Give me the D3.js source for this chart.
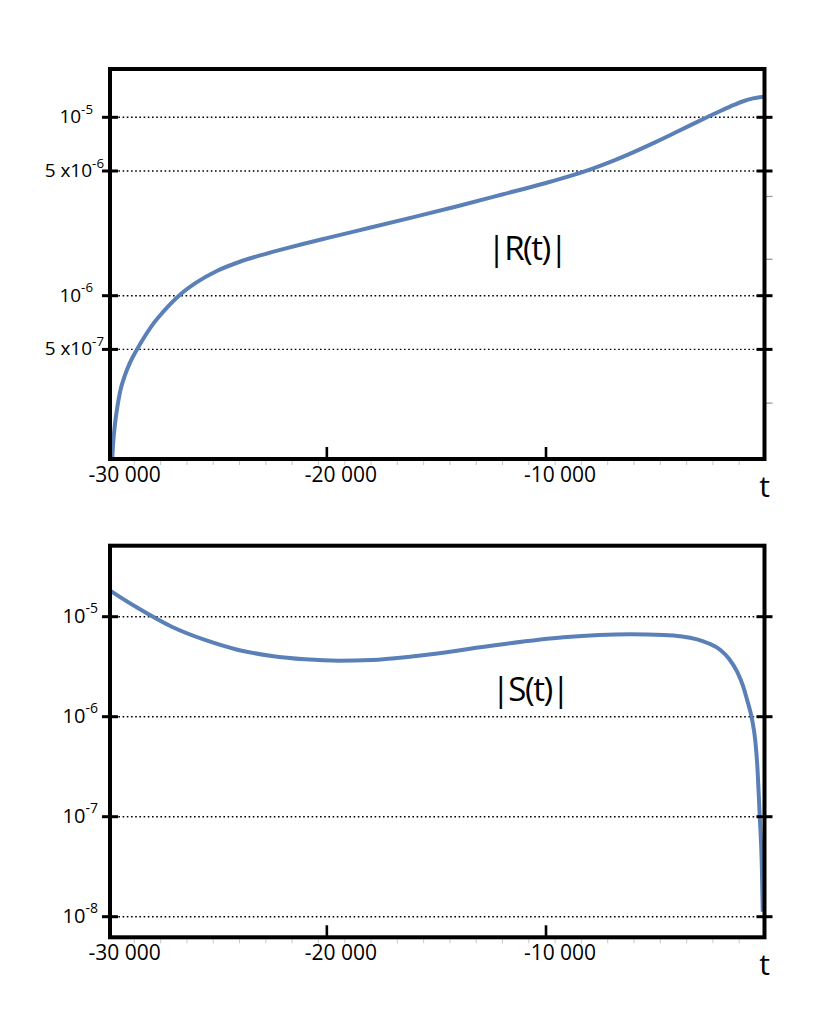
<!DOCTYPE html>
<html><head><meta charset="utf-8">
<script src="https://cdn.jsdelivr.net/npm/d3@7"></script>
<style>
body{margin:0;background:#fff}
text{font-family:"Open Sans","Noto Sans",sans-serif;fill:#000}
</style>
</head><body>
<svg id="c" width="832" height="1018"></svg>
<script>
// ---------- data ----------
const tR = [-29795,-29758,-29667,-29553,-29439,-29211,-28982,-28677,-28298,-27933,-27500,-26699,-26000,-25000,-24000,-23000,-22000,-21000,-20000,-18000,-16000,-14000,-12000,-10000,-9000,-8000,-7000,-6000,-5000,-4000,-3000,-2000,-1450,-1000,-550,-250,-30];
const rValues = [1.216e-7,1.455e-7,1.910e-7,2.410e-7,2.884e-7,3.589e-7,4.217e-7,4.966e-7,5.943e-7,6.934e-7,8.035e-7,1.012e-6,1.175e-6,1.380e-6,1.545e-6,1.687e-6,1.824e-6,1.963e-6,2.104e-6,2.410e-6,2.767e-6,3.184e-6,3.690e-6,4.285e-6,4.645e-6,5.093e-6,5.662e-6,6.383e-6,7.261e-6,8.318e-6,9.550e-6,1.091e-5,1.169e-5,1.230e-5,1.276e-5,1.297e-5,1.303e-5];

const tS = [-29850,-29817,-28603,-27078,-25557,-24037,-22511,-20991,-19470,-17945,-16425,-15055,-12237,-9196,-6151,-4630,-3105,-2600,-2041,-1650,-1279,-1000,-822,-594,-450,-365,-247,-155,-110];
const sValues = [1.8e-5,1.78e-5,1.213e-5,7.94e-6,5.85e-6,4.65e-6,4.05e-6,3.75e-6,3.63e-6,3.69e-6,3.93e-6,4.27e-6,5.21e-6,6.22e-6,6.67e-6,6.56e-6,5.94e-6,5.43e-6,4.65e-6,3.80e-6,2.82e-6,2.0e-6,1.47e-6,9.3e-7,5.75e-7,3.42e-7,1.0e-7,3.42e-8,1.12e-8];

const xDomain = [-29895, -30];
const xMajorTicks = [-30000, -20000, -10000];
const xMajorLabels = ["-30 000", "-20 000", "-10 000"];
const xInnerTicks = [-20000, -10000];
const xMinorTicks = [-28784,-27584,-26384,-25184,-23984,-22784,-21584,-20384,-19184,-17984,-16784,-15584,-14384,-13184,-11984,-10784,-9584,-8384,-7184,-5984,-4784,-3584,-2384,-1184];

const rTicks = [1e-5, 5e-6, 1e-6, 5e-7];
const rTickBase = ["10", "5 x10", "10", "5 x10"];
const rTickExp = ["-5", "-6", "-6", "-7"];
const rMinorTicks = [3.6e-6, 1.6e-6, 2.5e-7];

const sTicks = [1e-5, 1e-6, 1e-7, 1e-8];
const sTickBase = ["10", "10", "10", "10"];
const sTickExp = ["-5", "-6", "-7", "-8"];

// ---------- drawing ----------
const svg = d3.select("#c");
svg.append("rect").attr("width",832).attr("height",1018).attr("fill","#fff");
const curveColor = "#5b80b8";

function panel(o){
  const g = svg.append("g");
  const x = d3.scaleLinear().domain(xDomain).range([o.left, o.right]);
  const y = d3.scaleLog().domain(o.yDomain).range(o.yRange);

  // dotted gridlines
  g.selectAll("line.grid").data(o.yTicks).enter().append("line")
    .attr("x1", o.left).attr("x2", o.right)
    .attr("y1", d=>y(d)).attr("y2", d=>y(d))
    .attr("stroke","#000").attr("stroke-width",1.4)
    .attr("stroke-dasharray","1.6,2.6");

  // curve
  const clipId = "clip"+o.id;
  svg.append("clipPath").attr("id",clipId).append("rect")
    .attr("x",o.left).attr("y",o.top).attr("width",o.right-o.left).attr("height",o.bottom-o.top);
  const line = d3.line().x(d=>x(d[0])).y(d=>y(d[1])).curve(d3.curveMonotoneX);
  g.append("path").datum(o.t.map((t,i)=>[t,o.v[i]]))
    .attr("d", line).attr("fill","none")
    .attr("stroke",curveColor).attr("stroke-width",4)
    .attr("stroke-linejoin","round")
    .attr("clip-path","url(#"+clipId+")");

  // minor x ticks (faint, below frame)
  g.selectAll("line.xm").data(xMinorTicks).enter().append("line")
    .attr("x1",d=>x(d)).attr("x2",d=>x(d))
    .attr("y1",o.bottom+2).attr("y2",o.bottom+6)
    .attr("stroke","#c8c8c8").attr("stroke-width",1);

  // minor right y ticks
  if (o.yMinor) {
    g.selectAll("line.ym").data(o.yMinor).enter().append("line")
      .attr("x1",o.right).attr("x2",o.right+8)
      .attr("y1",d=>y(d)).attr("y2",d=>y(d))
      .attr("stroke","#9a9a9a").attr("stroke-width",1.3);
  }

  // frame
  g.append("rect").attr("x",o.left).attr("y",o.top)
    .attr("width",o.right-o.left).attr("height",o.bottom-o.top)
    .attr("fill","none").attr("stroke","#000").attr("stroke-width",4);

  // major y ticks (both sides, crossing the frame)
  [o.left, o.right].forEach(xx=>{
    g.selectAll(null).data(o.yTicks).enter().append("line")
      .attr("x1",xx-8).attr("x2",xx+8)
      .attr("y1",d=>y(d)).attr("y2",d=>y(d))
      .attr("stroke","#000").attr("stroke-width",3);
  });

  // inner x ticks
  g.selectAll("line.xt").data(xInnerTicks).enter().append("line")
    .attr("x1",d=>x(d)).attr("x2",d=>x(d))
    .attr("y1",o.bottom-12).attr("y2",o.bottom)
    .attr("stroke","#000").attr("stroke-width",2.6);

  // x tick labels
  g.selectAll("text.xl").data(xMajorTicks).enter().append("text")
    .attr("x",(d,i)=>x(d)+(i===0?17:14)).attr("y",o.bottom+23)
    .attr("text-anchor","middle").attr("font-size",21)
    .text((d,i)=>xMajorLabels[i]);

  // y tick labels
  o.yTicks.forEach((v,i)=>{
    const isPow = o.base[i] === "10";
    const tx = g.append("text")
      .attr("x", o.left - (isPow ? o.powGap : o.multGap))
      .attr("y", y(v)+6)
      .attr("text-anchor","end").attr("font-size",o.labelSize);
    tx.append("tspan").text(o.base[i]);
    tx.append("tspan").attr("dy",-9.5).attr("font-size",o.labelSize*0.7).text(o.exp[i]);
  });

  // t label
  g.append("text").attr("x",o.right).attr("y",o.bottom+38)
    .attr("text-anchor","middle").attr("font-size",30).text("t");

  // curve name
  g.append("text").attr("x",o.nameX).attr("y",o.nameY)
    .attr("text-anchor","middle").attr("font-size",33)
    .attr("letter-spacing",-1.5).text(o.name);
}

panel({id:"R", left:110, right:764.5, top:69, bottom:459,
  yDomain:[1e-6,1e-5], yRange:[295.7,117.3],
  t:tR, v:rValues, yTicks:rTicks, base:rTickBase, exp:rTickExp, yMinor:rMinorTicks,
  labelSize:19, powGap:17, multGap:6, name:"|R(t)|", nameX:527, nameY:260});

panel({id:"S", left:110, right:764.5, top:545.7, bottom:937.3,
  yDomain:[1e-8,1e-5], yRange:[916.7,616.7],
  t:tS, v:sValues, yTicks:sTicks, base:sTickBase, exp:sTickExp, yMinor:null,
  labelSize:20, powGap:12, multGap:8, name:"|S(t)|", nameX:530, nameY:701});
</script>
</body></html>
